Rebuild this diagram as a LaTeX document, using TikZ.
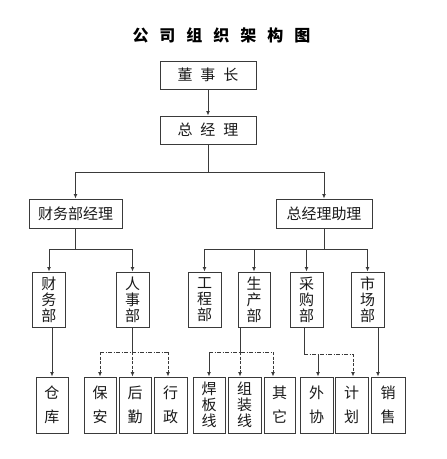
\documentclass[tikz,border=0pt]{standalone}
\usepackage{fontspec}
\setmainfont{Noto Sans CJK SC}
\usetikzlibrary{arrows.meta}
\definecolor{linec}{HTML}{3A3A3A}
\definecolor{textc}{HTML}{1A1A1A}
\tikzset{
  box/.style={draw=linec, line width=1pt, inner sep=0pt, text=textc, align=center},
  hbox/.style={box, font=\fontsize{15}{17}\selectfont},
  vbox/.style={box, minimum width=33pt, minimum height=55pt, font=\fontsize{15}{16}\selectfont},
  bbox/.style={box, minimum height=56pt, font=\fontsize{15}{16}\selectfont},
  conn/.style={draw=linec, line width=1pt},
  arr/.style={conn, -{Latex[length=4.5pt,width=4pt]}},
  dashdot/.style={conn, dash pattern=on 4pt off 1.5pt on 1pt off 1.5pt},
  darr/.style={arr, dash pattern=on 3pt off 1.5pt},
  titlef/.style={font=\fontsize{16}{16}\selectfont\bfseries, text=black}
}
\begin{document}
\begin{tikzpicture}[x=1pt,y=-1pt]
\useasboundingbox (0,0) rectangle (447,459);
\fill[white] (0,0) rectangle (447,459);

\node[titlef] (title) at (221.5,35) {公\hspace{11pt}司\hspace{11pt}组\hspace{11pt}织\hspace{11pt}架\hspace{11pt}构\hspace{11pt}图};

% top levels
\node[hbox, minimum width=96pt, minimum height=28pt] (dsz) at (208,75) {董\hspace{8pt}事\hspace{8pt}长};
\node[hbox, minimum width=96pt, minimum height=28pt] (zjl) at (208,130) {总\hspace{8pt}经\hspace{8pt}理};
\node[hbox, minimum width=93pt, minimum height=29pt] (cwjl) at (75.5,213.5) {财务部经理};
\node[hbox, minimum width=96pt, minimum height=29pt] (zjlzl) at (324,213.5) {总经理助理};

% second row
\node[vbox] (cw) at (49,299.5) {财\\务\\部};
\node[vbox] (rs) at (132.5,299.5) {人\\事\\部};
\node[vbox] (gc) at (204.5,299.5) {工\\程\\部};
\node[vbox, minimum width=32pt] (scb) at (254,299.5) {生\\产\\部};
\node[vbox] (cg) at (306.5,299.5) {采\\购\\部};
\node[vbox] (sc) at (367.5,299.5) {市\\场\\部};

% third row
\node[bbox, minimum width=32pt] (ck) at (52,405) {仓\\[8pt]库};
\node[bbox, minimum width=32pt] (ba) at (100,405) {保\\[8pt]安};
\node[bbox, minimum width=32pt] (hq) at (135,405) {后\\[8pt]勤};
\node[bbox, minimum width=33pt] (xz) at (170.5,405) {行\\[8pt]政};
\node[bbox, minimum width=32pt] (hb) at (209,405) {焊\\板\\线};
\node[bbox, minimum width=33pt] (zz) at (244.5,405) {组\\装\\线};
\node[bbox, minimum width=31pt] (qt) at (279.5,405) {其\\[8pt]它};
\node[bbox, minimum width=33pt] (wx) at (316.5,405) {外\\[8pt]协};
\node[bbox, minimum width=33pt] (jh) at (351.5,405) {计\\[8pt]划};
\node[bbox, minimum width=34pt] (xs) at (388,405) {销\\[8pt]售};

% junction coordinates
\coordinate (j1) at (208,172);
\coordinate (j2) at (75.5,249);
\coordinate (j3) at (324,249);
\coordinate (a1) at (100,352);
\coordinate (a2) at (132.5,352);
\coordinate (a3) at (168,352);
\coordinate (b1) at (209,352);
\coordinate (b2) at (240,352);
\coordinate (b3) at (273,352);
\coordinate (c0) at (304,354);
\coordinate (c1) at (318,354);
\coordinate (c2) at (353,354);
\coordinate (m0) at (378,340);

% connectors level 1
\draw[arr] (dsz) -- (zjl);
\draw[conn] (zjl.south) -- (j1);
\draw[arr] (j1) -| (cwjl.north);
\draw[arr] (j1) -| (zjlzl.north);

% level 2
\draw[conn] (cwjl.south) -- (j2);
\draw[arr] (j2) -| (cw.north);
\draw[arr] (j2) -| (rs.north);
\draw[conn] (zjlzl.south) -- (j3);
\draw[conn] (gc.north |- j3) -- (sc.north |- j3);
\draw[arr] (gc.north |- j3) -- (gc.north);
\draw[arr] (scb.north |- j3) -- (scb.north);
\draw[arr] (cg.north |- j3) -- (cg.north);
\draw[arr] (sc.north |- j3) -- (sc.north);

% level 3
\draw[arr] (cw.south -| ck.north) -- (ck.north);

\draw[conn] (rs.south) -- (a2);
\draw[dashdot] (a1) -- (a3);
\draw[darr] (a1) -- (a1 |- ba.north);
\draw[darr] (a2) -- (a2 |- hq.north);
\draw[darr] (a3) -- (a3 |- xz.north);

\draw[conn] (scb.south -| b2) -- (b2);
\draw[dashdot] (b1) -- (b3);
\draw[arr] (b1) -- (b1 |- hb.north);
\draw[darr] (b2) -- (b2 |- zz.north);
\draw[darr] (b3) -- (b3 |- qt.north);

\draw[conn] (cg.south -| c0) -- (c0);
\draw[dashdot] (c0) -- (c2);
\draw[arr] (c1) -- (c1 |- wx.north);
\draw[darr] (c2) -- (c2 |- jh.north);

\draw[arr] (sc.south -| m0) -- (m0 |- xs.north);
\end{tikzpicture}
\end{document}
